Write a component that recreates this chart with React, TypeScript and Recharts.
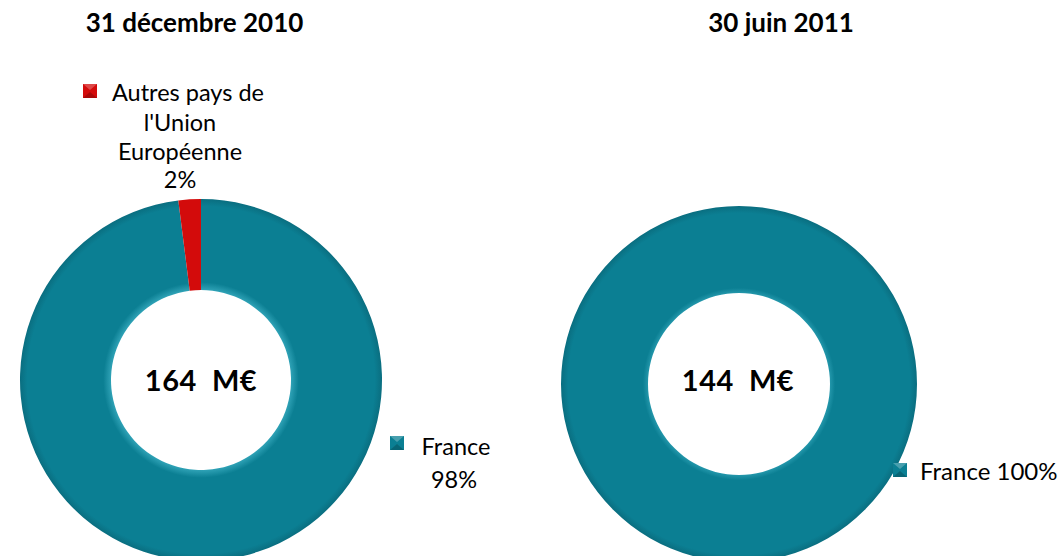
import { PieChart, Pie, Cell } from 'recharts';

// 31 décembre 2010
const categories2010 = ['France', "Autres pays de l'Union Européenne"];
const values2010 = [98, 2];
const total2010 = '164  M€';

// 30 juin 2011
const categories2011 = ['France'];
const values2011 = [100];
const total2011 = '144  M€';

const titles = ['31 décembre 2010', '30 juin 2011'];

const TEAL = '#0b7f93';
const RED = '#d30b0b';
const FONT = 'Lato, "Open Sans", sans-serif';

const data2010 = categories2010.map((name, i) => ({ name, value: values2010[i] }));
const data2011 = categories2011.map((name, i) => ({ name, value: values2011[i] }));

const Marker = ({ x, y, color }: { x: number; y: number; color: string }) => (
  <g>
    <rect x={x} y={y} width={14} height={14} fill={color} />
    <polygon points={`${x},${y} ${x + 14},${y} ${x + 7},${y + 6}`} fill="#ffffff" opacity={0.25} />
    <polygon points={`${x},${y + 14} ${x + 14},${y + 14} ${x + 7},${y + 8}`} fill="#000000" opacity={0.2} />
  </g>
);

const CenterText = ({ cx, cy, value }: { cx: number; cy: number; value: string }) => (
  <text
    x={cx}
    y={cy + 11}
    textAnchor="middle"
    fontFamily={FONT}
    fontWeight={700}
    fontSize={29}
    letterSpacing={0.5}
    fill="#000"
    style={{ whiteSpace: 'pre' }}
  >
    {value}
  </text>
);

// labels for the 2010 donut, placed relative to the pie centre
const renderLabel2010 = (props: any) => {
  const { cx, cy, index } = props;
  const pct = `${Math.round(props.percent * 100)}%`;
  if (index === 1) {
    const lines = ["l'Union", 'Européenne', pct];
    return (
      <g fontFamily={FONT} fontSize={23.5} fill="#000">
        <Marker x={cx - 118} y={cy - 296} color={RED} />
        <text x={cx - 13} y={cy - 279} textAnchor="middle">
          Autres pays de
        </text>
        {lines.map((t, i) => (
          <text key={t} x={cx - 21} y={cy - 249 + i * 28.5} textAnchor="middle">
            {t}
          </text>
        ))}
      </g>
    );
  }
  return (
    <g fontFamily={FONT} fontSize={23.5} fill="#000">
      <CenterText cx={cx} cy={cy} value={total2010} />
      <Marker x={cx + 189} y={cy + 56} color={TEAL} />
      <text x={cx + 255} y={cy + 75} textAnchor="middle">
        {props.name}
      </text>
      <text x={cx + 253} y={cy + 108} textAnchor="middle">
        {pct}
      </text>
    </g>
  );
};

const renderLabel2011 = (props: any) => {
  const { cx, cy } = props;
  const pct = `${Math.round(props.percent * 100)}%`;
  return (
    <g fontFamily={FONT} fontSize={24} fill="#000">
      <CenterText cx={cx - 1} cy={cy - 4} value={total2011} />
      <Marker x={cx + 154} y={cy + 79} color={TEAL} />
      <text x={cx + 181} y={cy + 96}>
        {props.name} {pct}
      </text>
    </g>
  );
};

export default function App() {
  return (
    <div style={{ position: 'absolute', left: 0, top: 0, width: 1061, height: 556, background: '#fff' }}>
      <div
        style={{
          position: 'absolute', left: 72, top: 6, width: 245, textAlign: 'center',
          fontFamily: FONT, fontWeight: 700, fontSize: 26,
        }}
      >
        {titles[0]}
      </div>
      <div
        style={{
          position: 'absolute', left: 690, top: 6, width: 182, textAlign: 'center',
          fontFamily: FONT, fontWeight: 700, fontSize: 26,
        }}
      >
        {titles[1]}
      </div>
      <PieChart width={1061} height={556} style={{ position: 'absolute', left: 0, top: 0 }}>
        <defs>
          <radialGradient id="tealRing" cx="50%" cy="50%" r="50%">
            <stop offset="0.49" stopColor="#35a8bc" />
            <stop offset="0.54" stopColor={TEAL} />
            <stop offset="0.96" stopColor={TEAL} />
            <stop offset="1" stopColor="#0a6e80" />
          </radialGradient>
        </defs>
        <Pie
          data={data2010}
          dataKey="value"
          nameKey="name"
          cx={196}
          cy={375}
          innerRadius={90}
          outerRadius={181}
          startAngle={90}
          endAngle={-270}
          stroke="none"
          label={renderLabel2010}
          labelLine={false}
          isAnimationActive={false}
        >
          <Cell fill="url(#tealRing)" />
          <Cell fill={RED} />
        </Pie>
        <Pie
          data={data2011}
          dataKey="value"
          nameKey="name"
          cx={734}
          cy={379}
          innerRadius={91}
          outerRadius={178}
          startAngle={90}
          endAngle={-270}
          stroke="none"
          label={renderLabel2011}
          labelLine={false}
          isAnimationActive={false}
        >
          <Cell fill="url(#tealRing)" />
        </Pie>
      </PieChart>
    </div>
  );
}
